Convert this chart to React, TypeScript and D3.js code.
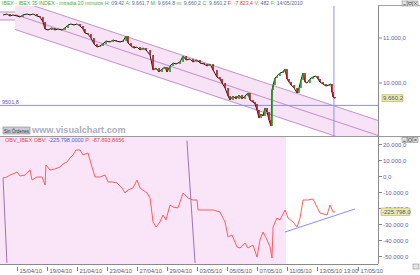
import React from "react";
import * as d3 from "d3";

// [trading-day index (0 = 15/04/10), IBEX close]
const priceSeries: [number, number][] = [
  [-0.93, 11511], [-0.67, 11533], [-0.47, 11489], [-0.27, 11511], [0, 11489], [0.2, 11467], [0.4, 11511],
  [0.67, 11533], [0.87, 11511], [1.07, 11533], [1.33, 11489], [1.53, 11467], [1.73, 11356], [1.87, 11200],
  [2.07, 11178], [2.33, 11222], [2.53, 11178], [2.73, 11200], [3.0, 11178], [3.2, 11222], [3.4, 11289],
  [3.6, 11311], [3.8, 11289], [4.0, 11311], [4.2, 11267], [4.4, 11200], [4.53, 11111], [4.73, 11089],
  [4.93, 11000], [5.13, 10867], [5.33, 10800], [5.53, 10822], [5.73, 10867], [5.93, 10933], [6.2, 10911],
  [6.4, 10955], [6.6, 10933], [6.87, 10911], [7.07, 10933], [7.27, 11044], [7.4, 10889], [7.6, 10822],
  [7.8, 10778], [8.0, 10800], [8.2, 10733], [8.4, 10778], [8.6, 10733], [8.87, 10622], [9.07, 10289],
  [9.27, 10333], [9.47, 10244], [9.67, 10311], [9.87, 10355], [10.0, 10244], [10.2, 10378], [10.4, 10444],
  [10.6, 10422], [10.87, 10467], [11.07, 10600], [11.27, 10511], [11.53, 10533], [11.73, 10467], [12.0, 10511],
  [12.2, 10444], [12.47, 10422], [12.67, 10378], [12.87, 10422], [13.07, 10289], [13.33, 10133], [13.53, 10089],
  [13.67, 10000], [13.87, 9889], [14.07, 9711], [14.2, 9622], [14.4, 9711], [14.6, 9644], [14.8, 9733],
  [15.0, 9644], [15.2, 9711], [15.4, 9778], [15.53, 9622], [15.73, 9578], [15.87, 9533], [16.0, 9400],
  [16.13, 9222], [16.27, 9311], [16.4, 9267], [16.53, 9444], [16.67, 9356], [16.8, 9178], [16.93, 9044],
  [17.0, 9844], [17.07, 9956], [17.2, 10111], [17.33, 10155], [17.53, 10222], [17.73, 10244], [17.87, 10311],
  [18.0, 10089], [18.13, 10022], [18.27, 9956], [18.47, 9889], [18.67, 9778], [18.8, 9889], [18.93, 10067],
  [19.07, 10222], [19.2, 10022], [19.33, 10000], [19.53, 10089], [19.73, 10133], [19.93, 10155], [20.07, 10089],
  [20.2, 10022], [20.4, 9978], [20.6, 9933], [20.8, 9956], [20.93, 9978], [21.0, 9800], [21.07, 9689],
  [21.2, 9660.2],
];

// [trading-day index, OBV]
const obvSeries: [number, number][] = [
  [-0.93, -938], [-0.67, -313], [-0.47, 938], [-0.13, 2188], [0, 2813], [0.2, 313], [0.53, 938],
  [0.87, 4063], [1.0, -2188], [1.33, -313], [1.67, -313], [1.87, -5313], [1.93, 7188], [2.2, 4063],
  [2.53, 4688], [2.87, 5938], [3.07, 7813], [3.33, 9063], [3.53, 11563], [3.73, 13438], [3.93, 16563],
  [4.2, 16563], [4.4, 13438], [4.73, 14688], [5.0, 5938], [5.2, -313], [5.53, -313], [5.87, 938],
  [6.07, -3438], [6.33, -3438], [6.67, -4063], [7.0, -7188], [7.2, -10313], [7.4, -8438], [7.73, -7188],
  [8.0, -2188], [8.2, -7188], [8.67, -10313], [8.87, -13438], [9.07, -28438], [9.27, -31563], [9.53, -28438],
  [9.73, -24063], [9.93, -27188], [10.2, -17813], [10.4, -19063], [10.73, -19688], [11.07, -10313],
  [11.4, -13438], [11.73, -14688], [12.0, -14688], [12.07, -20938], [12.67, -20938], [13.07, -20938],
  [13.53, -22188], [13.87, -28438], [14.07, -37813], [14.33, -36563], [14.67, -44063], [14.87, -44688],
  [15.2, -41563], [15.4, -44688], [15.73, -42813], [16.0, -50313], [16.2, -39688], [16.4, -34688],
  [16.67, -39688], [16.87, -44063], [17.0, -50938], [17.07, -31563], [17.33, -25938], [17.53, -27188],
  [17.87, -20938], [18.07, -25938], [18.4, -28438], [18.67, -31563], [18.87, -25938], [19.07, -14688],
  [19.4, -14688], [19.73, -14063], [20.0, -19063], [20.2, -22813], [20.67, -24063], [20.87, -17813],
  [21.07, -22188], [21.2, -22188],
];

const dateTicks: [number, string][] = [
  [0, "15/04/10"], [2, "19/04/10"], [4, "21/04/10"], [6, "23/04/10"], [8, "27/04/10"], [10, "29/04/10"],
  [12, "03/05/10"], [14, "05/05/10"], [16, "07/05/10"], [18, "11/05/10"], [20, "13/05/10 13:00"],
  [22.73, "17/05/10"],
];
const priceTicks = [11000, 10000];
const obvTicks = [20000, 10000, 0, -10000, -20000, -30000, -40000, -50000];

// regression channel (start day, end day, upper price start/end, band width)
const channelDays = [-0.13, 24.2];
const channelUpper = [11855, 9153];
const channelWidth = 333;
const flatChannelDays = [-1.3, -0.13];
const flatChannelPrices = [11578, 11400];
const hLineValue = 9501.8;
const cursorDay = 21.13;
const lastPriceLabel = "9.660,2";
const lastObvLabel = "-225.798,0";
const obvTrendA: [number, number][] = [[-0.93, -938], [-0.67, -54000]];
const obvTrendB: [number, number][] = [[11.33, 22500], [11.87, -54000]];
const obvSupport: [number, number][] = [[17.87, -34688], [22.53, -20313]];
const obvShadeEndDay = 17.93;

const fmt = (v: number) => {
  const s = d3.format(",.1f")(v);
  return s.replace(/,/g, "#").replace(".", ",").replace(/#/g, ".").replace("−", "-");
};

function WinButtons({ tx, ty }: { tx: number; ty: number }) {
  return (
    <g transform={`translate(${tx}, ${ty})`}>
      {[0, 5.5, 11].map((dx, j) => (
        <rect key={j} x={dx} y={0} width={5} height={5} fill="#e4e4e4" stroke="#777" strokeWidth={0.5} />
      ))}
      <line x1={1.3} x2={3.7} y1={3.8} y2={3.8} stroke="#222" strokeWidth={0.7} />
      <rect x={6.8} y={1.3} width={2.4} height={2.4} fill="none" stroke="#222" strokeWidth={0.5} />
      <path d="M12.3,1.3L14.7,3.7M14.7,1.3L12.3,3.7" stroke="#222" strokeWidth={0.6} />
    </g>
  );
}

export default function App() {
  const W = 420, H = 275, PR = 378;
  const topY0 = 6, topY1 = 136, botY0 = 137, botY1 = 264;
  const x = d3.scaleLinear().domain([-17 / 15, 361 / 15]).range([0, PR]);
  const yP = d3.scaleLinear().domain([10000, 11000]).range([83, 38]);
  const yO = d3.scaleLinear().domain([0, 20000]).range([176.5, 144.5]);

  const priceLine = d3.line<[number, number]>().x((d) => x(d[0])).y((d) => yP(d[1]));
  const obvLine = d3.line<[number, number]>().x((d) => x(d[0])).y((d) => yO(d[1]));

  const upperAt = (d: number) =>
    channelUpper[0] + ((d - channelDays[0]) / (channelDays[1] - channelDays[0])) * (channelUpper[1] - channelUpper[0]);
  const cx0 = x(channelDays[0]), cx1 = x(channelDays[1]);
  const chanPoly = [
    [cx0, yP(upperAt(channelDays[0]))], [cx1, yP(upperAt(channelDays[1]))],
    [cx1, yP(upperAt(channelDays[1]) - 2 * channelWidth)], [cx0, yP(upperAt(channelDays[0]) - 2 * channelWidth)],
  ].map((p) => p.join(",")).join(" ");

  const font = "Liberation Sans, Arial, sans-serif";
  const pink = "#f8e2f6";
  const chanStroke = "#b07ab8";
  const axisText = "#6262a8";

  const candles = priceSeries.slice(1).map((p, i) => {
    const o = priceSeries[i][1], c = p[1];
    const y0 = yP(Math.max(o, c)), y1 = yP(Math.min(o, c));
    return (
      <rect key={i} x={x(p[0]) - 0.8} y={y0} width={1.6} height={Math.max(1, y1 - y0)}
        fill={c >= o ? "#1f9a1f" : "#b41414"} />
    );
  });

  return (
    <svg width={W} height={H} style={{ position: "absolute", left: 0, top: 0, background: "#fff" }} fontFamily={font}>
      <defs>
        <clipPath id="ctop"><rect x={0} y={topY0} width={PR} height={topY1 - topY0} /></clipPath>
        <clipPath id="cbot"><rect x={0} y={botY0} width={PR} height={botY1 - botY0} /></clipPath>
      </defs>

      {/* top panel */}
      <g clipPath="url(#ctop)">
        <polygon points={chanPoly} fill={pink} />
        <rect x={x(flatChannelDays[0])} y={yP(flatChannelPrices[0])} width={x(flatChannelDays[1]) - x(flatChannelDays[0])}
          height={yP(flatChannelPrices[1]) - yP(flatChannelPrices[0])} fill={pink} />
        {flatChannelPrices.map((p, i) => (
          <line key={i} x1={x(flatChannelDays[0])} x2={x(flatChannelDays[1])} y1={yP(p)} y2={yP(p)} stroke={chanStroke} strokeWidth={0.8} />
        ))}
        {[0, 1, 2].map((k) => (
          <line key={k} x1={cx0} x2={cx1} y1={yP(upperAt(channelDays[0]) - k * channelWidth)}
            y2={yP(upperAt(channelDays[1]) - k * channelWidth)} stroke={chanStroke} strokeWidth={0.8} />
        ))}
        <line x1={0} x2={PR} y1={yP(hLineValue)} y2={yP(hLineValue)} stroke="#8f8ff0" strokeWidth={1} />
        <line x1={x(cursorDay)} x2={x(cursorDay)} y1={0} y2={topY1} stroke="#8f8ff0" strokeWidth={1} />
        <path d={priceLine(priceSeries) || ""} fill="none" stroke="#1a1a1a" strokeWidth={1} />
        {candles}
      </g>
      <text x={2} y={yP(hLineValue) - 1.5} fontSize={5.5} fill="#5a5ad0">9501,8</text>

      {/* header top */}
      <text x={2} y={5.3} fontSize={5.2} fill="#44b044">
        IBEX - IBEX 35 INDEX - intradia 20 minutos <tspan>H:</tspan><tspan fill="#5a6a90"> 09:42 </tspan>
        <tspan>A:</tspan><tspan fill="#5a6a90"> 9.661,7 </tspan>
        <tspan>M:</tspan><tspan fill="#5a6a90"> 9.664,8 </tspan>
        <tspan>m:</tspan><tspan fill="#5a6a90"> 9.660,2 </tspan>
        <tspan>C:</tspan><tspan fill="#5a6a90"> 9.660,2 </tspan>
        <tspan fill="#e04040">F: -7.823,4 </tspan>
        <tspan>V:</tspan><tspan fill="#5a6a90"> 482 </tspan>
        <tspan>F:</tspan><tspan fill="#5a6a90"> 14/05/2010</tspan>
      </text>

      {/* watermark & button */}
      <rect x={3} y={127} width={27} height={7} fill="#c8ccd4" stroke="#888" strokeWidth={0.6} />
      <text x={16.5} y={132.5} fontSize={4.5} textAnchor="middle" fill="#334">Sin Órdenes</text>
      <text x={32} y={133} fontSize={9.2} fill="#acadc0" fontWeight="bold">www.visualchart.com</text>

      {/* panel separator */}
      <line x1={0} x2={W} y1={topY1 + 0.5} y2={topY1 + 0.5} stroke="#9a9a9a" strokeWidth={1} />

      {/* bottom panel */}
      <g clipPath="url(#cbot)">
        <rect x={0} y={botY0} width={x(obvShadeEndDay)} height={botY1 - botY0} fill="#fae5f8" />
        <path d={obvLine(obvSeries) || ""} fill="none" stroke="#ff4e4e" strokeWidth={1} strokeOpacity={0.9} />
        <path d={obvLine(obvTrendA) || ""} stroke="#9c74b4" strokeWidth={1} fill="none" />
        <path d={obvLine(obvTrendB) || ""} stroke="#9c74b4" strokeWidth={1} fill="none" />
        <path d={obvLine(obvSupport) || ""} stroke="#8c8cf4" strokeWidth={1} fill="none" />
      </g>
      <text x={5} y={141.5} fontSize={5.5} fill="#e04848">
        OBV_IBEX OBV: <tspan fill="#4a5ad0">-225.798,0000</tspan> P: -87.893,8656
      </text>

      {/* right axis */}
      <line x1={PR + 0.5} x2={PR + 0.5} y1={topY0} y2={botY1} stroke="#8a8a8a" strokeWidth={1} />
      <line x1={PR} x2={W} y1={topY0 - 0.5} y2={topY0 - 0.5} stroke="#8a8a8a" strokeWidth={0.8} />
      {priceTicks.map((t) => (
        <g key={t}>
          <line x1={PR + 1} x2={PR + 4} y1={yP(t)} y2={yP(t)} stroke={axisText} strokeWidth={0.8} />
          <text x={PR + 5} y={yP(t) + 2} fontSize={6} fill={axisText}>{fmt(t)}</text>
        </g>
      ))}
      {obvTicks.map((t) => (
        <g key={t}>
          <line x1={PR + 1} x2={PR + 4} y1={yO(t)} y2={yO(t)} stroke={axisText} strokeWidth={0.8} />
          <text x={PR + 5} y={yO(t) + 2} fontSize={6} fill={axisText}>{fmt(t)}</text>
        </g>
      ))}
      <rect x={PR + 4} y={yP(9660.2) - 3.5} width={21} height={7} fill="#ecec9c" stroke="#a0a070" strokeWidth={0.5} />
      <text x={PR + 5} y={yP(9660.2) + 2} fontSize={6} fill="#5050a0">{lastPriceLabel}</text>
      <rect x={PR + 3} y={yO(-22188) - 4} width={29} height={7.5} fill="#ecec9c" stroke="#a0a070" strokeWidth={0.5} />
      <text x={PR + 4} y={yO(-22188) + 2} fontSize={6} fill="#5050a0">{lastObvLabel}</text>

      {/* window buttons */}
      <WinButtons tx={402} ty={1} />
      <WinButtons tx={402} ty={137.5} />
      <rect x={413} y={264} width={6} height={5} fill="#e4e4e4" stroke="#777" strokeWidth={0.5} />

      {/* bottom axis */}
      <line x1={0} x2={PR} y1={botY1 + 0.5} y2={botY1 + 0.5} stroke="#8a8a8a" strokeWidth={1} />
      {dateTicks.map(([d, label]) => (
        <g key={label}>
          <line x1={x(d) + 0.5} x2={x(d) + 0.5} y1={botY1 + 3} y2={botY1 + 7} stroke="#444" strokeWidth={0.7} />
          <text x={x(d) + 2.5} y={botY1 + 9} fontSize={5.8} fill="#555a80">{label}</text>
        </g>
      ))}
    </svg>
  );
}
